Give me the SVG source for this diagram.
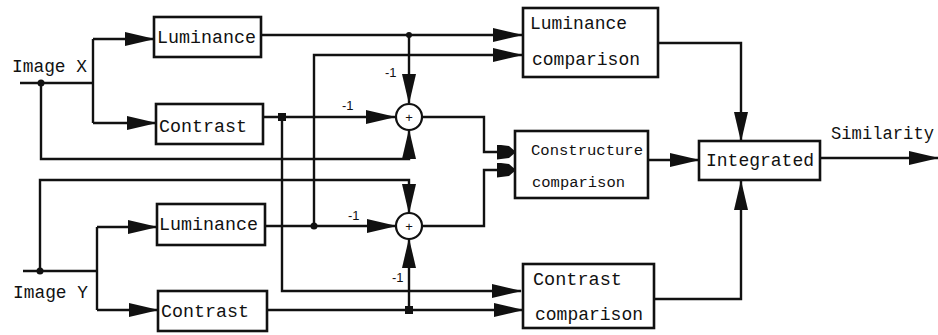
<svg xmlns="http://www.w3.org/2000/svg" width="938" height="335" viewBox="0 0 938 335">
<defs>
<style>
.box{fill:#fff;stroke:#111;stroke-width:2.6}
.ln{fill:none;stroke:#111;stroke-width:2.4}
.t{font-family:"Liberation Mono","DejaVu Sans Mono",monospace;font-size:18px;fill:#111}
.ts{font-family:"Liberation Mono","DejaVu Sans Mono",monospace;font-size:15.5px;fill:#111}
.m{font-family:"Liberation Sans","DejaVu Sans",sans-serif;font-size:13px;fill:#111}
.sum{fill:#fff;stroke:#111;stroke-width:2.2}
.dot{fill:#111}
</style>
<marker id="a" markerUnits="userSpaceOnUse" markerWidth="30" markerHeight="14" refX="29" refY="7" orient="auto">
<path d="M0,0 L30,7 L0,14 z" fill="#111"/>
</marker>
<marker id="s" markerUnits="userSpaceOnUse" markerWidth="19" markerHeight="15" refX="18" refY="7.5" orient="auto">
<path d="M0,0 L12,1.5 L19,7.5 L12,13.5 L0,15 z" fill="#111"/>
</marker>
</defs>
<rect width="938" height="335" fill="#fff"/>
<g id="connectors">
<path class="ln" d="M20,83 H93"/>
<path class="ln" d="M93,39 V123"/>
<path class="ln" d="M93,39 H154" marker-end="url(#a)"/>
<path class="ln" d="M93,123 H156" marker-end="url(#a)"/>
<path class="ln" d="M23,271 H97"/>
<path class="ln" d="M97,227 V310"/>
<path class="ln" d="M97,227 H157" marker-end="url(#a)"/>
<path class="ln" d="M97,310 H158" marker-end="url(#a)"/>
<path class="ln" d="M261,35 H522" marker-end="url(#a)"/>
<path class="ln" d="M409,35 V103" marker-end="url(#a)"/>
<path class="ln" d="M314,226 V55 H522" marker-end="url(#a)"/>
<path class="ln" d="M263,117 H395" marker-end="url(#a)"/>
<path class="ln" d="M282,117 V291 H521" marker-end="url(#a)"/>
<path class="ln" d="M41,83 V159 H409 V130" marker-end="url(#a)"/>
<path class="ln" d="M40,271 V180 H409 V213" marker-end="url(#a)"/>
<path class="ln" d="M265,226 H396" marker-end="url(#a)"/>
<path class="ln" d="M267,310 H523" marker-end="url(#a)"/>
<path class="ln" d="M409,310 V239" marker-end="url(#a)"/>
<path class="ln" d="M422,117 H484 V152 H515" marker-end="url(#s)"/>
<path class="ln" d="M422,226 H484 V170 H515" marker-end="url(#s)"/>
<path class="ln" d="M658,43 H741 V141" marker-end="url(#a)"/>
<path class="ln" d="M648,160 H699" marker-end="url(#a)"/>
<path class="ln" d="M654,299 H741 V181" marker-end="url(#a)"/>
<path class="ln" d="M820,158 H938" marker-end="url(#a)"/>
<circle class="dot" cx="41" cy="83" r="3.5"/>
<circle class="dot" cx="40" cy="271" r="3.5"/>
<circle class="dot" cx="409" cy="35" r="3"/>
<circle class="dot" cx="314" cy="226" r="3.5"/>
<rect class="dot" x="278" y="113" width="8" height="8"/>
<rect class="dot" x="405" y="306" width="8" height="8"/>
</g>
<g id="labels-inputs">
<text class="t" x="12" y="72" textLength="75" lengthAdjust="spacingAndGlyphs">Image X</text>
<text class="t" x="13" y="298" textLength="75" lengthAdjust="spacingAndGlyphs">Image Y</text>
</g>
<g id="lumX"><rect class="box" x="154" y="17" width="107" height="40"/><text class="t" x="157" y="43" textLength="99" lengthAdjust="spacingAndGlyphs">Luminance</text></g>
<g id="conX"><rect class="box" x="156" y="104" width="107" height="40"/><text class="t" x="159" y="132" textLength="88" lengthAdjust="spacingAndGlyphs">Contrast</text></g>
<g id="lumY"><rect class="box" x="157" y="204" width="108" height="41"/><text class="t" x="159" y="230" textLength="99" lengthAdjust="spacingAndGlyphs">Luminance</text></g>
<g id="conY"><rect class="box" x="158" y="291" width="109" height="40"/><text class="t" x="161" y="317" textLength="88" lengthAdjust="spacingAndGlyphs">Contrast</text></g>
<g id="sum1"><circle class="sum" cx="409" cy="117" r="13"/><text class="m" x="409" y="121.5" text-anchor="middle" font-size="11">+</text>
<text class="m" x="385" y="77">-1</text><text class="m" x="342" y="110">-1</text></g>
<g id="sum2"><circle class="sum" cx="409" cy="226" r="13"/><text class="m" x="409" y="230.5" text-anchor="middle" font-size="11">+</text>
<text class="m" x="348" y="220">-1</text><text class="m" x="392" y="282">-1</text></g>
<g id="lumComp"><rect class="box" x="523" y="8" width="135" height="69" stroke-width="3"/>
<text class="t" x="530" y="29" textLength="97" lengthAdjust="spacingAndGlyphs">Luminance</text>
<text class="t" x="532" y="65" textLength="108" lengthAdjust="spacingAndGlyphs">comparison</text></g>
<g id="conComp"><rect class="box" x="515" y="131" width="133" height="67" stroke-width="3"/>
<text class="ts" x="531" y="155" textLength="112" lengthAdjust="spacingAndGlyphs">Constructure</text>
<text class="ts" x="532" y="187" textLength="93" lengthAdjust="spacingAndGlyphs">comparison</text></g>
<g id="ctrComp"><rect class="box" x="523" y="264" width="131" height="64" stroke-width="3"/>
<text class="t" x="533" y="285" textLength="89" lengthAdjust="spacingAndGlyphs">Contrast</text>
<text class="t" x="535" y="320" textLength="108" lengthAdjust="spacingAndGlyphs">comparison</text></g>
<g id="integrated"><rect class="box" x="699" y="141" width="121" height="39"/>
<text class="t" x="706" y="166" textLength="108" lengthAdjust="spacingAndGlyphs">Integrated</text></g>
<g id="output"><text class="t" x="831" y="139" textLength="103" lengthAdjust="spacingAndGlyphs">Similarity</text></g>
</svg>
